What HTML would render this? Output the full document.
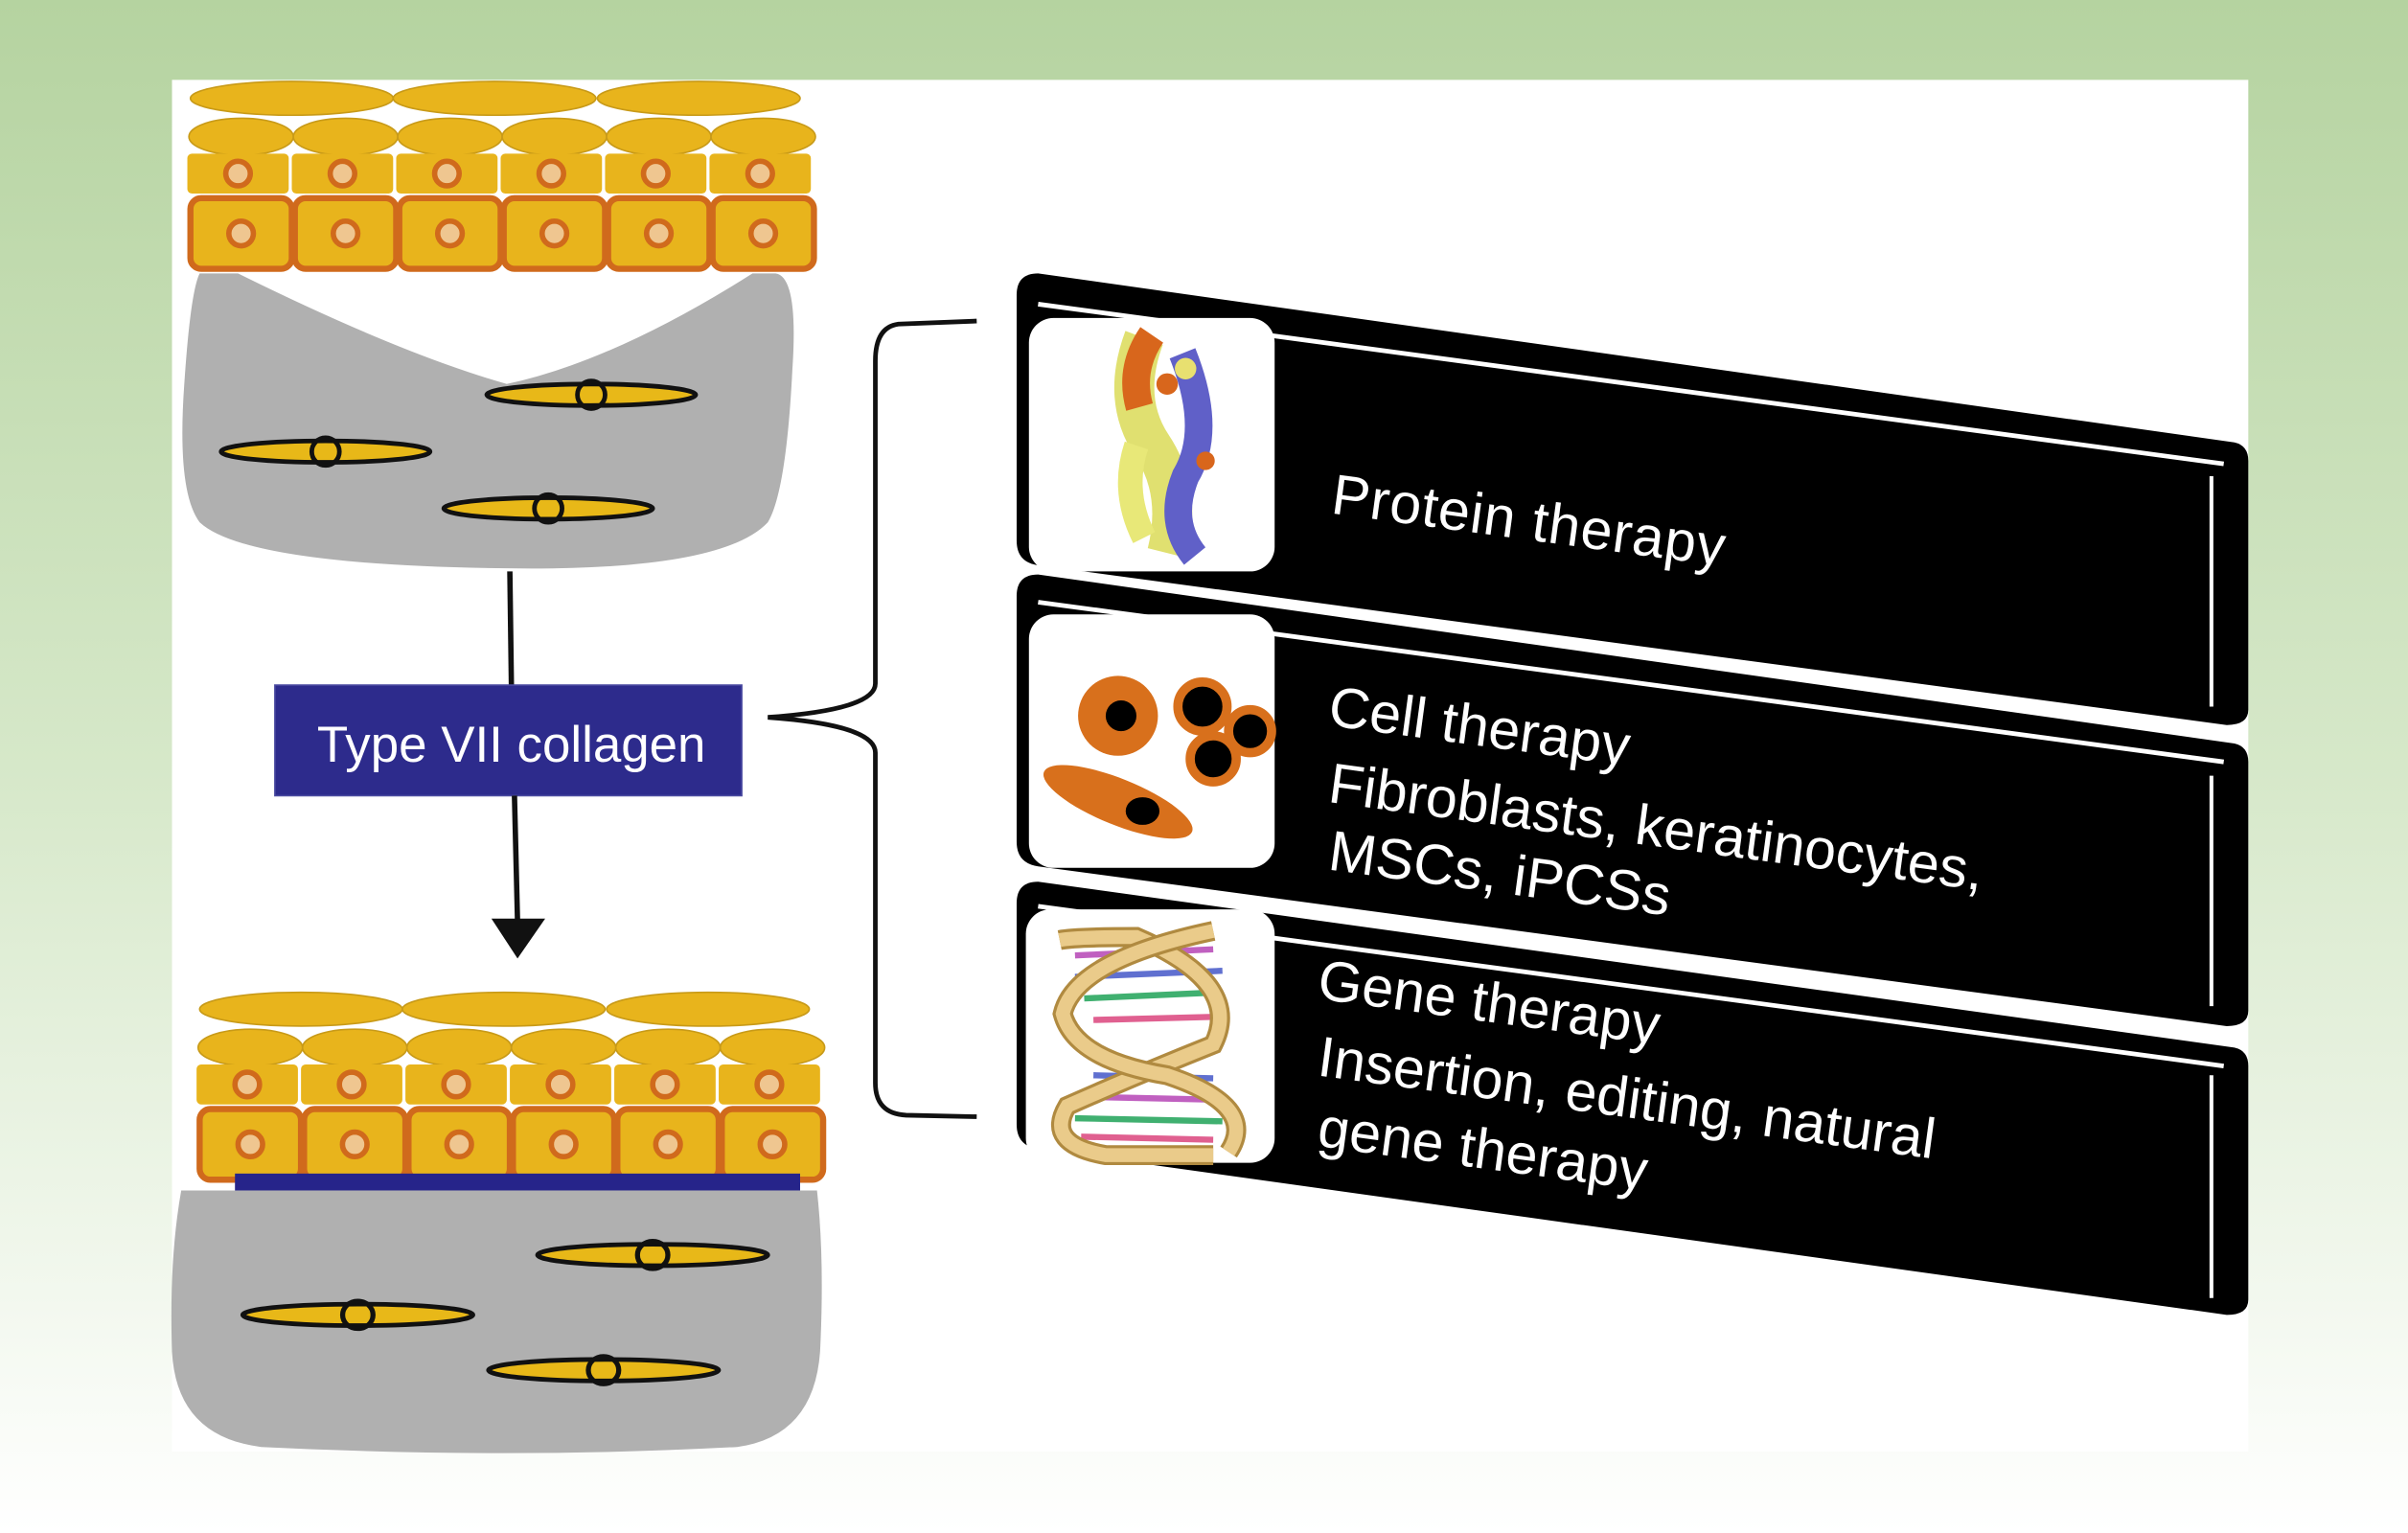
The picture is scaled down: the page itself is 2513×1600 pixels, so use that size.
<!DOCTYPE html>
<html><head><meta charset="utf-8"><style>html,body{margin:0;padding:0;width:2513px;height:1600px;overflow:hidden}svg{display:block}</style></head><body>
<svg width="2513" height="1600" viewBox="0 0 1568 998" preserveAspectRatio="none" xmlns="http://www.w3.org/2000/svg">
<defs>
<linearGradient id="bg" x1="0" y1="0" x2="0" y2="1"><stop offset="0" stop-color="#b5d3a0"/><stop offset="0.5" stop-color="#d6e8c9"/><stop offset="1" stop-color="#ffffff"/></linearGradient>
<g id="fib"><ellipse cx="0" cy="0" rx="68" ry="7" fill="#e8b818" stroke="#111" stroke-width="3"/><circle cx="0" cy="0" r="9" fill="none" stroke="#111" stroke-width="3"/></g>
<g id="cellsq"><rect x="0" y="0" width="66" height="46" rx="7" fill="#e8b41c" stroke="#d06a1c" stroke-width="4"/><circle cx="33" cy="23" r="8" fill="#efc690" stroke="#d06a1c" stroke-width="3.5"/></g>
<g id="cellsm"><rect x="0" y="0" width="66" height="26" rx="3" fill="#e8b41c"/><circle cx="33" cy="13" r="8" fill="#efc690" stroke="#d06a1c" stroke-width="3.5"/></g>
</defs>
<rect width="1568" height="998" fill="url(#bg)"/>
<rect x="112" y="52" width="1352" height="893" fill="#fff"/>

<g>
<ellipse cx="190" cy="64" rx="66" ry="11" fill="#e8b41c" stroke="#c89a18"/><ellipse cx="322" cy="64" rx="66" ry="11" fill="#e8b41c" stroke="#c89a18"/><ellipse cx="455" cy="64" rx="66" ry="11" fill="#e8b41c" stroke="#c89a18"/>
<ellipse cx="157" cy="89" rx="34" ry="12" fill="#e8b41c" stroke="#c89a18"/><ellipse cx="225" cy="89" rx="34" ry="12" fill="#e8b41c" stroke="#c89a18"/><ellipse cx="293" cy="89" rx="34" ry="12" fill="#e8b41c" stroke="#c89a18"/><ellipse cx="361" cy="89" rx="34" ry="12" fill="#e8b41c" stroke="#c89a18"/><ellipse cx="429" cy="89" rx="34" ry="12" fill="#e8b41c" stroke="#c89a18"/><ellipse cx="497" cy="89" rx="34" ry="12" fill="#e8b41c" stroke="#c89a18"/>
<use href="#cellsm" x="122" y="100"/><use href="#cellsm" x="190" y="100"/><use href="#cellsm" x="258" y="100"/><use href="#cellsm" x="326" y="100"/><use href="#cellsm" x="394" y="100"/><use href="#cellsm" x="462" y="100"/>
<use href="#cellsq" x="124" y="129"/><use href="#cellsq" x="192" y="129"/><use href="#cellsq" x="260" y="129"/><use href="#cellsq" x="328" y="129"/><use href="#cellsq" x="396" y="129"/><use href="#cellsq" x="464" y="129"/>
</g>
<path d="M130 178 L505 178 Q520 180 516 240 Q512 320 500 340 Q470 372 330 370 Q160 368 130 340 Q115 320 120 250 Q124 190 130 178 Z M155 178 Q260 230 330 250 Q400 235 490 178 Z" fill="#b0b0b0" fill-rule="evenodd"/>
<use href="#fib" x="385" y="257"/><use href="#fib" x="212" y="294"/><use href="#fib" x="357" y="331"/>

<line x1="332" y1="372" x2="333" y2="446" stroke="#111" stroke-width="3.5"/>
<rect x="179" y="446" width="304" height="72" fill="#2d2b8c" stroke="#4a4aa0"/>
<text x="333" y="496" text-anchor="middle" font-family="Liberation Sans, sans-serif" font-size="33" fill="#fff">Type VII collagen</text>
<line x1="335" y1="518" x2="337" y2="600" stroke="#111" stroke-width="3.5"/>
<polygon points="320,598 355,598 337,624" fill="#111"/>

<g transform="translate(6,593)">
<ellipse cx="190" cy="64" rx="66" ry="11" fill="#e8b41c" stroke="#c89a18"/><ellipse cx="322" cy="64" rx="66" ry="11" fill="#e8b41c" stroke="#c89a18"/><ellipse cx="455" cy="64" rx="66" ry="11" fill="#e8b41c" stroke="#c89a18"/>
<ellipse cx="157" cy="89" rx="34" ry="12" fill="#e8b41c" stroke="#c89a18"/><ellipse cx="225" cy="89" rx="34" ry="12" fill="#e8b41c" stroke="#c89a18"/><ellipse cx="293" cy="89" rx="34" ry="12" fill="#e8b41c" stroke="#c89a18"/><ellipse cx="361" cy="89" rx="34" ry="12" fill="#e8b41c" stroke="#c89a18"/><ellipse cx="429" cy="89" rx="34" ry="12" fill="#e8b41c" stroke="#c89a18"/><ellipse cx="497" cy="89" rx="34" ry="12" fill="#e8b41c" stroke="#c89a18"/>
<use href="#cellsm" x="122" y="100"/><use href="#cellsm" x="190" y="100"/><use href="#cellsm" x="258" y="100"/><use href="#cellsm" x="326" y="100"/><use href="#cellsm" x="394" y="100"/><use href="#cellsm" x="462" y="100"/>
<use href="#cellsq" x="124" y="129"/><use href="#cellsq" x="192" y="129"/><use href="#cellsq" x="260" y="129"/><use href="#cellsq" x="328" y="129"/><use href="#cellsq" x="396" y="129"/><use href="#cellsq" x="464" y="129"/>
</g>
<rect x="153" y="764" width="368" height="11" fill="#26248a"/>
<path d="M118 775 L532 775 Q537 820 534 880 Q530 935 480 942 Q330 950 170 942 Q115 935 112 880 Q110 820 118 775 Z" fill="#b0b0b0"/>
<g transform="translate(425,817) scale(1.1,1)"><use href="#fib"/></g>
<g transform="translate(233,856) scale(1.1,1)"><use href="#fib"/></g>
<g transform="translate(393,892) scale(1.1,1)"><use href="#fib"/></g>

<path d="M636 209 L585 211 Q570 213 570 235 L570 445 Q570 462 500 467 Q570 472 570 490 L570 705 Q570 725 590 726 L636 727" fill="none" stroke="#111" stroke-width="3"/>

<g>
<path d="M662 192 Q662 178 676 178 L1455 288 Q1464 290 1464 300 L1464 462 Q1464 472 1450 472 L676 368 Q662 366 662 352 Z" fill="#000"/>
<line x1="676" y1="198" x2="1448" y2="302" stroke="#fff" stroke-width="3"/>
<path d="M1440 310 L1440 460" stroke="#fff" stroke-width="2.5"/>
<path d="M662 388 Q662 374 676 374 L1455 484 Q1464 486 1464 496 L1464 658 Q1464 668 1450 668 L676 564 Q662 562 662 548 Z" fill="#000"/>
<line x1="676" y1="392" x2="1448" y2="496" stroke="#fff" stroke-width="3"/>
<path d="M1440 505 L1440 655" stroke="#fff" stroke-width="2.5"/>
<path d="M662 588 Q662 574 676 574 L1455 682 Q1464 684 1464 694 L1464 846 Q1464 856 1450 856 L676 748 Q662 746 662 732 Z" fill="#000"/>
<line x1="676" y1="590" x2="1448" y2="694" stroke="#fff" stroke-width="3"/>
<path d="M1440 700 L1440 845" stroke="#fff" stroke-width="2.5"/>
</g>
<rect x="670" y="207" width="160" height="165" rx="16" fill="#fff"/>
<rect x="670" y="400" width="160" height="165" rx="16" fill="#fff"/>
<rect x="668" y="592" width="162" height="165" rx="16" fill="#fff"/>

<g>
<path d="M745 220 Q730 260 750 290 Q770 320 760 360" stroke="#e0e070" stroke-width="26" fill="none"/>
<path d="M750 218 Q735 240 742 265" stroke="#d8661c" stroke-width="18" fill="none"/>
<path d="M770 230 Q790 280 772 310 Q760 340 778 362" stroke="#6060c8" stroke-width="18" fill="none"/>
<path d="M740 290 Q730 320 745 350" stroke="#e8e878" stroke-width="16" fill="none"/>
<circle cx="785" cy="300" r="6" fill="#d8661c"/><circle cx="760" cy="250" r="7" fill="#d8661c"/><circle cx="772" cy="240" r="7" fill="#e8e070"/>
</g>
<g>
<circle cx="728" cy="466" r="26" fill="#d8701c"/><circle cx="730" cy="466" r="10" fill="#000"/>
<circle cx="783" cy="460" r="16" fill="#000" stroke="#d8701c" stroke-width="6"/>
<circle cx="814" cy="476" r="14" fill="#000" stroke="#d8701c" stroke-width="6"/>
<circle cx="790" cy="494" r="15" fill="#000" stroke="#d8701c" stroke-width="6"/>
<ellipse cx="728" cy="522" rx="52" ry="15" transform="rotate(22 728 522)" fill="#d8701c"/>
<ellipse cx="744" cy="528" rx="11" ry="9" fill="#000"/>
</g>
<g>
<g stroke-width="4">
<line x1="700" y1="622" x2="790" y2="618" stroke="#c060c0"/><line x1="700" y1="636" x2="796" y2="632" stroke="#6070d0"/><line x1="706" y1="650" x2="794" y2="646" stroke="#40b070"/><line x1="712" y1="664" x2="790" y2="662" stroke="#e06090"/>
<line x1="712" y1="700" x2="790" y2="702" stroke="#6070d0"/><line x1="704" y1="714" x2="796" y2="716" stroke="#c060c0"/><line x1="700" y1="728" x2="796" y2="730" stroke="#40b070"/><line x1="704" y1="740" x2="790" y2="742" stroke="#e06090"/>
</g>
<path d="M690 612 Q700 610 740 610 Q810 640 790 680 Q740 700 695 720 Q680 745 720 752 L790 752" stroke="#b08a40" stroke-width="13" fill="none"/>
<path d="M690 612 Q700 610 740 610 Q810 640 790 680 Q740 700 695 720 Q680 745 720 752 L790 752" stroke="#eacb8a" stroke-width="9" fill="none"/>
<path d="M790 606 Q700 625 692 660 Q700 690 760 700 Q820 720 800 750" stroke="#b08a40" stroke-width="13" fill="none"/>
<path d="M790 606 Q700 625 692 660 Q700 690 760 700 Q820 720 800 750" stroke="#eacb8a" stroke-width="9" fill="none"/>
</g>

<g font-family="Liberation Sans, sans-serif" font-size="37" fill="#fff">
<text transform="translate(866,334) rotate(7.7)" textLength="258">Protein therapy</text>
<text transform="translate(864,472) rotate(7.7)">Cell therapy</text>
<text transform="translate(864,522) rotate(7.7)">Fibroblasts, keratinocytes,</text>
<text transform="translate(864,566) rotate(7.7)">MSCs, iPCSs</text>
<text transform="translate(857,650) rotate(7.7)">Gene therapy</text>
<text transform="translate(857,700) rotate(7.7)">Insertion, editing, natural</text>
<text transform="translate(857,746) rotate(7.7)">gene therapy</text>
</g>
</svg>
</body></html>
